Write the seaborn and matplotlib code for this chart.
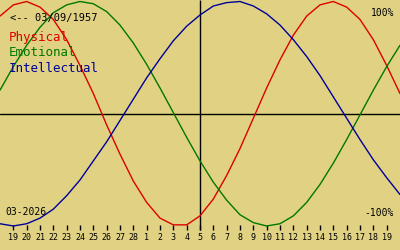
import matplotlib
matplotlib.use("Agg")
import matplotlib.pyplot as plt
import seaborn as sns

# ---- data ----
day_labels = ["18", "19", "20", "21", "22", "23", "24", "25", "26", "27", "28",
              "1", "2", "3", "4", "5", "6", "7", "8", "9", "10", "11", "12",
              "13", "14", "15", "16", "17", "18", "19", "20"]
days = list(range(len(day_labels)))
today_index = 15  # 5 (March)
physical = [0.87, 0.97, 1.00, 0.95, 0.84, 0.66, 0.43, 0.18, -0.10, -0.36, -0.60,
            -0.79, -0.93, -0.99, -0.99, -0.91, -0.76, -0.55, -0.31, -0.04, 0.23,
            0.48, 0.70, 0.87, 0.97, 1.00, 0.95, 0.84, 0.66, 0.43, 0.18]
emotional = [0.21, 0.42, 0.61, 0.77, 0.90, 0.97, 1.00, 0.98, 0.91, 0.79, 0.63,
             0.44, 0.23, 0.01, -0.21, -0.42, -0.61, -0.77, -0.90, -0.97, -1.00,
             -0.98, -0.91, -0.79, -0.63, -0.44, -0.23, -0.01, 0.21, 0.42, 0.61]
intellectual = [-0.98, -1.00, -0.98, -0.93, -0.85, -0.73, -0.59, -0.42, -0.25,
                -0.06, 0.13, 0.32, 0.49, 0.65, 0.78, 0.88, 0.96, 0.99, 1.00, 0.96,
                0.89, 0.79, 0.66, 0.51, 0.34, 0.15, -0.04, -0.23, -0.41, -0.57, -0.72]
series_names = ["Physical", "Emotional", "Intellectual"]
birth_text = "<-- 03/09/1957"
month_text = "03-2026"
top_text = "100%"
bottom_text = "-100%"

bg = "#E1D283"
colors = ["#DD0000", "#007700", "#000099"]

sns.set_theme(style="white")
plt.rcParams["font.family"] = ["DejaVu Sans Mono", "DejaVu Sans"]

fig = plt.figure(figsize=(4, 2.5), dpi=100)
fig.patch.set_facecolor(bg)
ax = fig.add_axes([0, 0, 1, 1])
ax.set_facecolor(bg)
ax.set_axis_off()

ymax = 1.0134
ymin = -1.214
ax.set_xlim(0, len(days) - 1)
ax.set_ylim(ymin, ymax)

# axes lines
ax.axhline(0, color="black", lw=1.0, zorder=1)
tick_top = -0.991
tick_bot = -1.036
ax.vlines(today_index, tick_bot, ymax, color="black", lw=1.0, zorder=1)
ax.vlines(days[1:-1], tick_bot, tick_top, color="black", lw=1.0, zorder=1)
for d, lab in zip(days[1:-1], day_labels[1:-1]):
    ax.text(d, -1.107, lab, ha="center", va="center", fontsize=6, color="black")

for vals, c in zip([physical, emotional, intellectual], colors):
    sns.lineplot(x=days, y=vals, color=c, ax=ax, linewidth=1.0, zorder=3)

def px(x, y):
    return x / 400.0, 1 - y / 250.0

ax.text(*px(10, 17.5), birth_text, transform=ax.transAxes, ha="left", va="center",
        fontsize=7.5, color="black")
for i, (name, c) in enumerate(zip(series_names, colors)):
    ax.text(*px(9, 38 + 15 * i), name, transform=ax.transAxes, ha="left",
            va="center", fontsize=9, color=c)
ax.text(*px(394, 12.5), top_text, transform=ax.transAxes, ha="right", va="center",
        fontsize=7, color="black")
ax.text(*px(394, 212.5), bottom_text, transform=ax.transAxes, ha="right",
        va="center", fontsize=7, color="black")
ax.text(*px(5, 212), month_text, transform=ax.transAxes, ha="left", va="center",
        fontsize=7, color="black")

fig.savefig("out.png", dpi=100, facecolor=bg)
